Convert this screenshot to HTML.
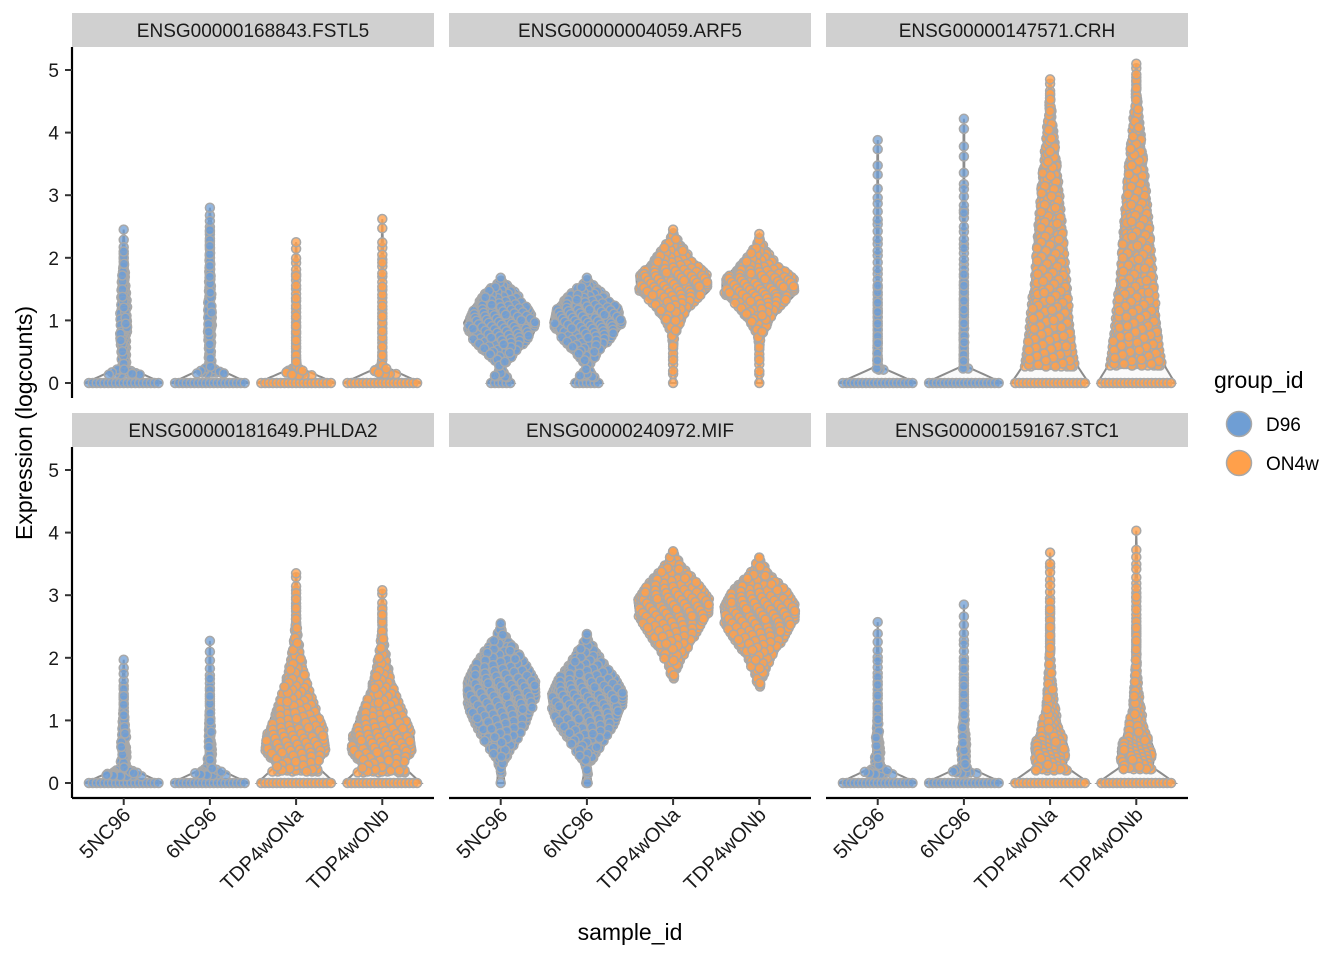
<!DOCTYPE html>
<html><head><meta charset="utf-8"><style>
body{margin:0;background:#fff}
svg text{font-family:"Liberation Sans",Arial,sans-serif}
</style></head><body>
<svg id="chart" width="1344" height="960" xmlns="http://www.w3.org/2000/svg"></svg>
<script>
const genes=["ENSG00000168843.FSTL5","ENSG00000004059.ARF5","ENSG00000147571.CRH","ENSG00000181649.PHLDA2","ENSG00000240972.MIF","ENSG00000159167.STC1"];
const samples=["5NC96","6NC96","TDP4wONa","TDP4wONb"];
const sampleGroup=["D96","D96","ON4w","ON4w"];
const yTicks=[0,1,2,3,4,5];
// per gene, per sample: [lo, hi]
const violinRange=[
 [[0,2.45],[0,2.8],[0,2.25],[0,2.62]],
 [[0,1.68],[0,1.68],[0,2.45],[0,2.38]],
 [[0,3.88],[0,4.22],[0,4.85],[0,5.1]],
 [[0,1.97],[0,2.27],[0,3.35],[0,3.08]],
 [[0,2.55],[0,2.38],[1.65,3.7],[1.52,3.6]],
 [[0,2.57],[0,2.85],[0,3.68],[0,4.03]]
];
// density profiles, evenly spaced between lo and hi
const violinDens=[
 [[1,0.12,0.12,0.14,0.15,0.14,0.12,0.09,0.05,0.02,0],[1,0.1,0.08,0.1,0.11,0.1,0.08,0.07,0.06,0.05,0.03,0],[1,0.07,0.04,0.04,0.04,0.03,0.03,0.02,0.02,0],[1,0.07,0.04,0.04,0.04,0.03,0.03,0.02,0.02,0.01,0]],
 [[0.35,0.05,0.45,0.8,0.95,0.75,0.45,0],[0.4,0.06,0.35,0.7,0.95,0.85,0.45,0],[0.08,0.02,0.03,0.08,0.25,0.5,0.92,0.95,0.55,0.25,0],[0.08,0.02,0.03,0.08,0.28,0.55,0.95,0.95,0.5,0.2,0]],
 [[1,0.07,0.06,0.05,0.05,0.04,0.03,0.02,0.02,0.02,0.02,0.01,0.01,0.01,0.01,0],[1,0.07,0.06,0.06,0.05,0.05,0.04,0.03,0.02,0.02,0.02,0.02,0.01,0.01,0.01,0.01,0],[1,0.72,0.65,0.6,0.56,0.52,0.48,0.45,0.42,0.39,0.36,0.32,0.29,0.25,0.21,0.17,0.13,0.09,0.05,0],[1,0.75,0.68,0.63,0.58,0.54,0.5,0.47,0.44,0.41,0.38,0.34,0.31,0.27,0.23,0.19,0.15,0.11,0.07,0.04,0]],
 [[1,0.12,0.13,0.11,0.08,0.05,0.03,0.02,0],[1,0.1,0.11,0.09,0.07,0.05,0.03,0.02,0.01,0],[1,0.55,0.85,0.8,0.65,0.5,0.36,0.25,0.16,0.1,0.06,0.04,0.03,0],[1,0.55,0.85,0.8,0.65,0.48,0.33,0.22,0.14,0.08,0.05,0.03,0]],
 [[0.1,0.05,0.25,0.5,0.7,0.85,0.95,0.95,0.75,0.5,0.2,0],[0.12,0.05,0.3,0.55,0.8,0.95,1,0.8,0.5,0.25,0]],
 [[1,0.12,0.12,0.09,0.06,0.04,0.03,0.02,0.02,0.01,0],[1,0.1,0.12,0.1,0.07,0.05,0.04,0.03,0.02,0.02,0.01,0],[1,0.4,0.48,0.34,0.22,0.15,0.11,0.08,0.06,0.05,0.04,0.03,0.02,0.02,0],[1,0.42,0.48,0.32,0.22,0.15,0.11,0.08,0.06,0.05,0.04,0.03,0.03,0.02,0.02,0.01,0]]
];
violinDens[4].push([0.06,0.2,0.45,0.7,0.95,1,0.7,0.3,0.05],[0.06,0.2,0.4,0.7,0.95,1,0.75,0.3,0.05]);

const NS="http://www.w3.org/2000/svg";
const svg=document.getElementById('chart');
function mk(tag,attrs,parent){const e=document.createElementNS(NS,tag);for(const k in attrs)e.setAttribute(k,attrs[k]);(parent||svg).appendChild(e);return e;}
const colX=[72,449,826],panelW=362,rowTop=[47,447],zeroY=[383,783],unit=62.6;
const catStep=panelW/4.2;
function xScale(col,i){return colX[col]+(0.6+i)*catStep;}
function yScale(row,v){return zeroY[row]-v*unit;}
const maxHalf=catStep*0.45;
const fillCol={D96:"rgba(111,158,212,0.75)",ON4w:"rgba(255,160,75,0.78)"};

function densAt(d,lo,hi,v){if(hi<=lo)return 0;const t=(v-lo)/(hi-lo)*(d.length-1);const i=Math.floor(t);if(i<0)return d[0];if(i>=d.length-1)return d[d.length-1];const f=t-i;return d[i]*(1-f)+d[i+1]*f;}

for(let g=0;g<6;g++){
  const row=Math.floor(g/3),col=g%3;
  const pg=mk('g',{});
  
  
  const st=mk('rect',{x:colX[col],y:rowTop[row]-34,width:panelW,height:34,fill:'#d0d0d0'},pg);
  
  const stt=mk('text',{x:colX[col]+panelW/2,y:rowTop[row]-10,'text-anchor':'middle','font-size':19,fill:'#1a1a1a'},pg);
  stt.textContent=genes[g];
  
  for(let s=0;s<4;s++){
    const [lo,hi]=violinRange[g][s],d=violinDens[g][s],cx=xScale(col,s);
    const N=120,left=[],right=[];
    for(let k=0;k<=N;k++){const v=lo+(hi-lo)*k/N;const w=densAt(d,lo,hi,v)*maxHalf;left.push([cx-w,yScale(row,v)]);right.push([cx+w,yScale(row,v)]);}
    const pts=left.concat(right.reverse());
    const vp=mk('path',{d:'M'+pts.map(p=>p[0].toFixed(1)+','+p[1].toFixed(1)).join('L')+'Z',fill:'#fafafa',stroke:'#8c8c8c','stroke-width':2},pg);
    
    const pgp=mk('g',{fill:fillCol[sampleGroup[s]],stroke:'#a8a8a8','stroke-width':1.5},pg);
    
    const dots=[];
    if(lo===0){
      const w0=d[0]*maxHalf;const n0=Math.max(1,Math.floor(2*w0/4));
      for(let k=0;k<n0;k++)dots.push([n0===1?cx:cx-w0+4+k*(2*w0-8)/(n0-1),yScale(row,0)]);
    }
    const M=200,cum=[0];const start=lo===0?(hi-lo)*0.05:lo;
    let area=0;
    for(let k=1;k<=M;k++){const v=start+(hi-start)*k/M;const w=densAt(d,lo,hi,v)*maxHalf;area+=2*w*(hi-start)/M*unit;cum.push(area);}
    const n=Math.min(1100,Math.round(area/9));
    for(let k=0;k<n;k++){
      const u=((k+0.5)*0.6180339887)%1,r=((k+0.5)*0.7548776662)%1;
      const target=u*area;let j=1;while(j<M&&cum[j]<target)j++;
      const v=start+(hi-start)*j/M;const w=densAt(d,lo,hi,v)*maxHalf;
      dots.push([cx+(2*r-1)*Math.max(0,w-2),yScale(row,v)]);
    }
    dots.push([cx,yScale(row,hi)]);
    for(const p of dots){mk('circle',{cx:p[0].toFixed(1),cy:p[1].toFixed(1),r:4.5},pgp);}
  }
  if(row===1){
    const ax=mk('line',{x1:colX[col],x2:colX[col]+panelW,y1:798,y2:798,stroke:'#000','stroke-width':2.2},pg);
    
    for(let s=0;s<4;s++){const x=xScale(col,s);
      mk('line',{x1:x,x2:x,y1:798,y2:805,stroke:'#333','stroke-width':2},pg);
      const t=mk('text',{x:0,y:0,'text-anchor':'end','font-size':20,fill:'#1a1a1a',transform:`translate(${x+8},${816}) rotate(-45)`},pg);
      t.textContent=samples[s];}
  }
  if(col===0){
    const ay=mk('line',{x1:72,x2:72,y1:rowTop[row],y2:rowTop[row]+351,stroke:'#000','stroke-width':2.2},pg);
    
    for(const v of yTicks){const y=yScale(row,v);
      mk('line',{x1:65,x2:72,y1:y,y2:y,stroke:'#333','stroke-width':2},pg);
      const t=mk('text',{x:59,y:y+7,'text-anchor':'end','font-size':19,fill:'#1a1a1a'},pg);
      t.textContent=v;}
  }
}
const xt=mk('text',{x:630,y:940,'text-anchor':'middle','font-size':23,fill:'#000'});xt.textContent='sample_id';

const yt=mk('text',{x:0,y:0,'text-anchor':'middle','font-size':23,fill:'#000',transform:'translate(32,423) rotate(-90)'});yt.textContent='Expression (logcounts)';

const lg=mk('g',{});
const lt=mk('text',{x:1214,y:388,'font-size':23,fill:'#000'},lg);lt.textContent='group_id';

const groups=["D96","ON4w"];
groups.forEach((gname,i)=>{const y=424+i*39;
  const e=mk('g',{},lg);
  mk('circle',{cx:1239,cy:y,r:12.5,fill:gname==='D96'?'#6f9ed4':'#ffa04b',stroke:'#a8a8a8','stroke-width':1.5},e);
  const t=mk('text',{x:1266,y:y+7,'font-size':19,fill:'#000'},e);t.textContent=gname;});
</script>
</body></html>
